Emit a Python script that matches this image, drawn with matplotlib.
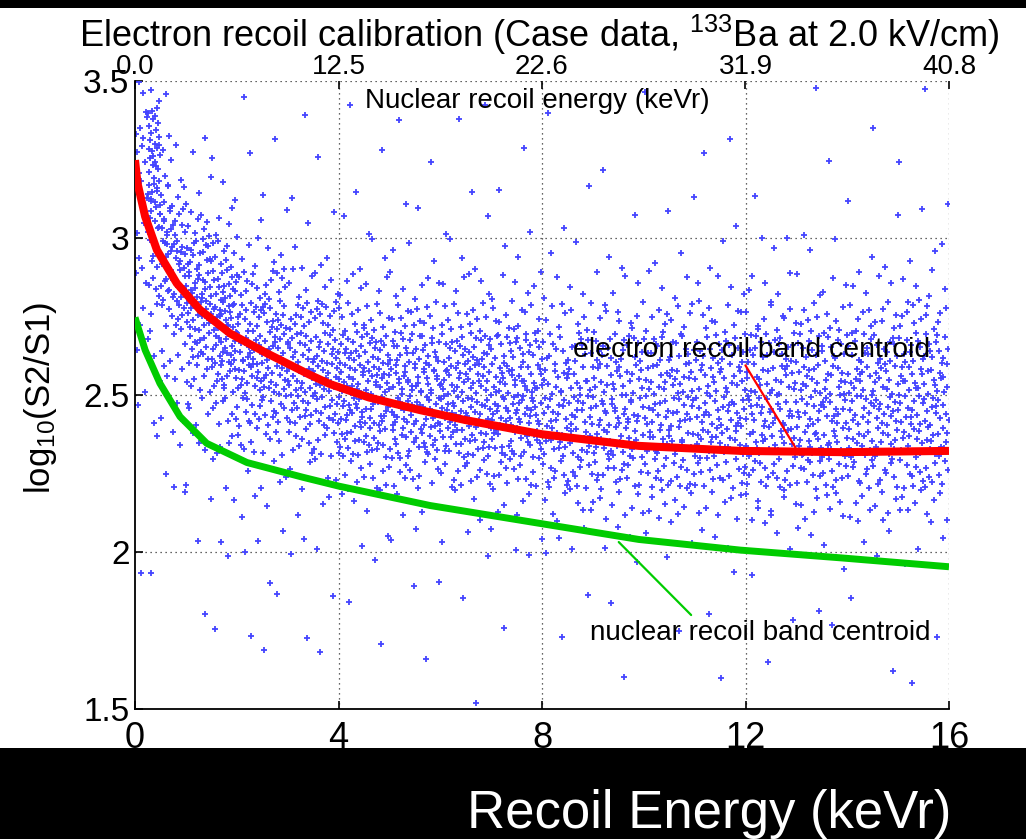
import numpy as np
import matplotlib
matplotlib.use('Agg')
import matplotlib.pyplot as plt
from matplotlib.patches import Rectangle

plt.rcParams['font.family'] = ['Liberation Sans', 'DejaVu Sans']
plt.rcParams['mathtext.fontset'] = 'custom'
plt.rcParams['mathtext.rm'] = 'Liberation Sans'
plt.rcParams['mathtext.it'] = 'Liberation Sans:italic'

# ---------------- data ----------------
# electron recoil band centroid (red)
er_x = [0, 0.05, 0.2, 0.43, 0.82, 1.28, 1.87, 2.59, 3.44, 3.83, 4.6, 5.6, 6.5, 8.0, 9.9, 11.9, 13.9, 16.0]
er_y = [3.248, 3.174, 3.068, 2.962, 2.856, 2.771, 2.696, 2.633, 2.564, 2.535, 2.492, 2.452, 2.42, 2.375, 2.338, 2.322, 2.318, 2.322]
# nuclear recoil band centroid (green)
nr_x = [0, 0.2, 0.49, 0.885, 1.41, 2.2, 3.3, 4.0, 5.8, 8.0, 9.9, 11.9, 13.9, 16.0]
nr_y = [2.747, 2.643, 2.537, 2.431, 2.346, 2.285, 2.238, 2.21, 2.148, 2.09, 2.04, 2.006, 1.981, 1.953]

# scatter density: counts of events per cell
x_edges = [0, 0.25, 0.5, 0.75, 1, 1.5, 2, 3, 4, 5, 6, 7, 8, 9, 10, 11, 12, 13, 14, 15, 16]
y_edges = [1.5, 1.6, 1.7, 1.8, 1.9, 2.0, 2.1, 2.2, 2.3, 2.4, 2.5, 2.6, 2.7, 2.8, 2.9, 3.0, 3.1, 3.2, 3.3, 3.4, 3.5]
# one row per x bin, counts from y=1.5 (left) to y=3.5 (right)
counts = [
    [0, 0, 0, 0, 1, 0, 0, 0, 0, 1, 1, 1, 2, 2, 2, 3, 3, 4, 4, 3],
    [0, 0, 0, 0, 1, 0, 0, 0, 1, 1, 1, 2, 3, 4, 6, 9, 12, 12, 10, 4],
    [0, 0, 0, 0, 0, 0, 0, 1, 1, 1, 2, 2, 4, 8, 10, 10, 6, 2, 1, 1],
    [0, 0, 0, 0, 0, 0, 1, 1, 1, 2, 2, 3, 6, 10, 10, 6, 3, 1, 0, 0],
    [0, 0, 0, 1, 0, 1, 1, 1, 3, 5, 8, 14, 20, 20, 16, 8, 3, 1, 1, 0],
    [0, 0, 1, 0, 1, 1, 1, 2, 4, 8, 14, 20, 22, 18, 10, 4, 2, 1, 0, 0],
    [0, 1, 1, 1, 2, 2, 3, 5, 12, 24, 32, 34, 30, 18, 8, 3, 1, 1, 1, 1],
    [0, 1, 1, 1, 1, 2, 3, 6, 16, 28, 34, 32, 22, 10, 4, 2, 1, 1, 1, 0],
    [0, 0, 1, 1, 1, 2, 4, 12, 26, 34, 36, 30, 16, 7, 3, 2, 1, 1, 0, 1],
    [0, 1, 0, 1, 1, 2, 4, 13, 27, 35, 35, 28, 15, 7, 3, 1, 1, 1, 1, 0],
    [1, 0, 0, 1, 1, 2, 4, 14, 28, 35, 34, 27, 14, 6, 3, 2, 1, 0, 1, 1],
    [0, 0, 1, 0, 1, 3, 5, 15, 28, 35, 33, 25, 13, 6, 2, 1, 1, 1, 0, 0],
    [0, 0, 1, 1, 1, 3, 8, 18, 25, 27, 25, 19, 10, 4, 2, 1, 1, 0, 1, 0],
    [0, 1, 0, 1, 1, 3, 9, 18, 26, 27, 24, 20, 10, 4, 2, 1, 0, 1, 0, 0],
    [0, 0, 1, 0, 1, 3, 9, 19, 25, 26, 25, 20, 10, 4, 2, 1, 1, 0, 0, 1],
    [1, 0, 0, 1, 1, 3, 8, 18, 26, 27, 24, 20, 11, 4, 2, 1, 0, 1, 1, 0],
    [0, 1, 1, 0, 1, 3, 9, 18, 25, 27, 25, 21, 11, 5, 2, 1, 1, 0, 0, 0],
    [0, 0, 1, 1, 1, 3, 9, 19, 26, 27, 25, 21, 11, 5, 2, 1, 0, 1, 0, 1],
    [0, 1, 0, 1, 1, 3, 9, 18, 25, 27, 26, 22, 12, 5, 2, 1, 1, 0, 1, 0],
    [1, 0, 1, 0, 1, 3, 9, 18, 25, 27, 26, 23, 13, 6, 3, 1, 1, 1, 0, 1],
]

bottom_ticks = [0, 4, 8, 12, 16]
bottom_labels = ['0', '4', '8', '12', '16']
top_labels = ['0.0', '12.5', '22.6', '31.9', '40.8']
y_ticks = [1.5, 2, 2.5, 3, 3.5]
y_labels = ['1.5', '2', '2.5', '3', '3.5']


def halton(i, b):
    f, r = 1.0, 0.0
    while i > 0:
        f /= b
        r += f * (i % b)
        i //= b
    return r


# place each cell's events deterministically inside its cell
px, py = [], []
k = 1
for ix, row in enumerate(counts):
    for iy, n in enumerate(row):
        for _ in range(n):
            px.append(x_edges[ix] + halton(k, 2) * (x_edges[ix + 1] - x_edges[ix]))
            py.append(y_edges[iy] + halton(k, 3) * (y_edges[iy + 1] - y_edges[iy]))
            k += 1

W, H = 1026, 839
fig = plt.figure(figsize=(W / 100, H / 100), dpi=100, facecolor='white')
ax = fig.add_axes([135 / W, 1 - 709 / H, (949 - 135) / W, (709 - 81) / H])

ax.set_xlim(0, 16)
ax.set_ylim(1.5, 3.5)

ax.plot(px, py, linestyle='none', marker='+', ms=4.6, mew=1.3, color='#4444ff', zorder=2)
ax.plot(er_x, er_y, color='#ff0000', lw=5.8, solid_capstyle='butt', solid_joinstyle='round', zorder=3)
ax.plot(nr_x, nr_y, color='#00cc00', lw=5.0, solid_capstyle='butt', solid_joinstyle='round', zorder=3)

# grid (dotted) including lines at the top and right edges
for gx in [4, 8, 12, 16]:
    ax.axvline(gx, color='#333333', lw=0.9, linestyle=(0, (1, 3)), zorder=1)
for gy in [2, 2.5, 3, 3.5]:
    ax.axhline(gy, color='#333333', lw=0.9, linestyle=(0, (1, 3)), zorder=1)

for s in ['top', 'right']:
    ax.spines[s].set_visible(False)
for s in ['left', 'bottom']:
    ax.spines[s].set_linewidth(1.3)

ax.set_xticks(bottom_ticks)
ax.set_xticklabels(bottom_labels, fontsize=26)
ax.set_yticks(y_ticks)
ax.set_yticklabels(y_labels, fontsize=24)
ax.tick_params(axis='x', direction='in', length=6, width=1.2, pad=9)
ax.tick_params(axis='y', direction='in', length=6, width=1.2, pad=4)

ax2 = ax.twiny()
ax2.set_xlim(0, 16)
ax2.set_xticks(bottom_ticks)
ax2.set_xticklabels(top_labels, fontsize=20)
ax2.tick_params(axis='x', direction='in', length=6, width=1.2, pad=1)
for s in ax2.spines.values():
    s.set_visible(False)

fig.text(537 / W, 1 - 108 / H, 'Nuclear recoil energy (keVr)', fontsize=20,
         ha='center', va='baseline')

# annotations
ax.annotate('', xy=(13.01, 2.325), xytext=(11.97, 2.602),
            arrowprops=dict(arrowstyle='-', color='#ff0000', lw=1.6), zorder=4)
ax.annotate('', xy=(10.97, 1.793), xytext=(9.47, 2.038),
            arrowprops=dict(arrowstyle='-', color='#00cc00', lw=1.6), zorder=4)
fig.text(573 / W, 1 - 357 / H, 'electron recoil band centroid', fontsize=20.4, ha='left', va='baseline')
fig.text(590 / W, 1 - 640 / H, 'nuclear recoil band centroid', fontsize=20, ha='left', va='baseline')

fig.text(539 / W, 1 - 47 / H, r'Electron recoil calibration (Case data, $^{133}$Ba at 2.0 kV/cm)',
         fontsize=26, ha='center', va='baseline')
fig.text(41 / W, 1 - 398 / H, r'log$_{10}$(S2/S1)', fontsize=25, rotation=90, ha='center', va='center')

# black bands
fig.add_artist(Rectangle((0, 0), 1, (H - 748) / H, transform=fig.transFigure,
                         facecolor='black', edgecolor='none', zorder=10))
fig.add_artist(Rectangle((0, 1 - 8 / H), 1, 8 / H, transform=fig.transFigure,
                         facecolor='black', edgecolor='none', zorder=10))
t = fig.text(709 / W, 1 - 828 / H, 'Recoil Energy (keVr)', fontsize=38, color='white',
             ha='center', va='baseline')
t.set_zorder(11)

fig.savefig('out.png', dpi=100, facecolor='white')
